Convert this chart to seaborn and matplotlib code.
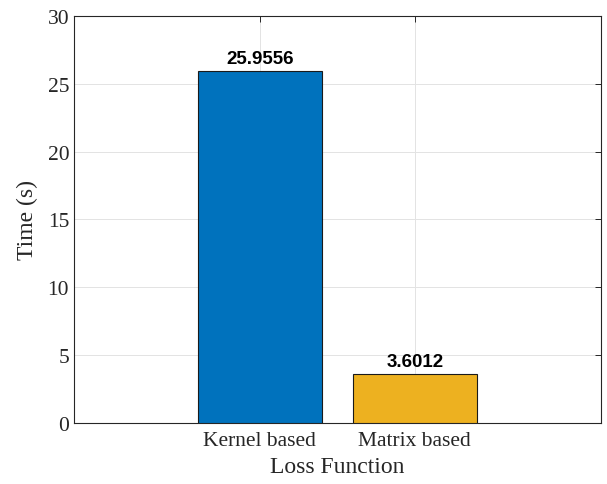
import numpy as np
import pandas as pd
import seaborn as sns
from matplotlib import pyplot as plt

methods = ['Kernel based', 'Matrix based']
times = [25.9556, 3.6012]
colors = ['#0072BD', '#EDB120']

df = pd.DataFrame({'method': methods, 'time': times})

sns.set_style('white')
plt.rcParams['font.family'] = ['Liberation Serif', 'DejaVu Serif']

fig = plt.figure(figsize=(6.07, 4.85), dpi=100)
ax = fig.add_axes([0.1219, 0.1258, 0.9896 - 0.1219, 0.965 - 0.1258])

sns.barplot(data=df, x='method', y='time', hue='method', palette=colors,
            saturation=1, width=0.8, edgecolor='#1a1a1a', linewidth=0.8,
            legend=False, errorbar=None, ax=ax, zorder=3)

for c in ax.containers:
    ax.bar_label(c, fmt='%.4f', padding=3, fontsize=13.5, fontweight='bold',
                 family='Liberation Sans', color='black')

ax.set_xlim(-1.2, 2.2)
ax.set_ylim(0, 30)
ax.set_yticks(np.arange(0, 31, 5))
ax.set_xlabel('Loss Function', fontsize=17, color='#262626', labelpad=4)
ax.set_ylabel('Time (s)', fontsize=17, color='#262626', labelpad=7)
ax.grid(True, color='#e3e3e3', linewidth=0.7, zorder=0)
ax.set_axisbelow(True)
ax.tick_params(direction='in', top=True, right=True, length=4, width=0.7,
               colors='#262626', labelsize=15.5, labelcolor='#262626')
ax.tick_params(axis='x', pad=6)
for s in ax.spines.values():
    s.set_color('#262626')
    s.set_linewidth(0.8)
    s.set_visible(True)

plt.savefig('out.png', dpi=100)
